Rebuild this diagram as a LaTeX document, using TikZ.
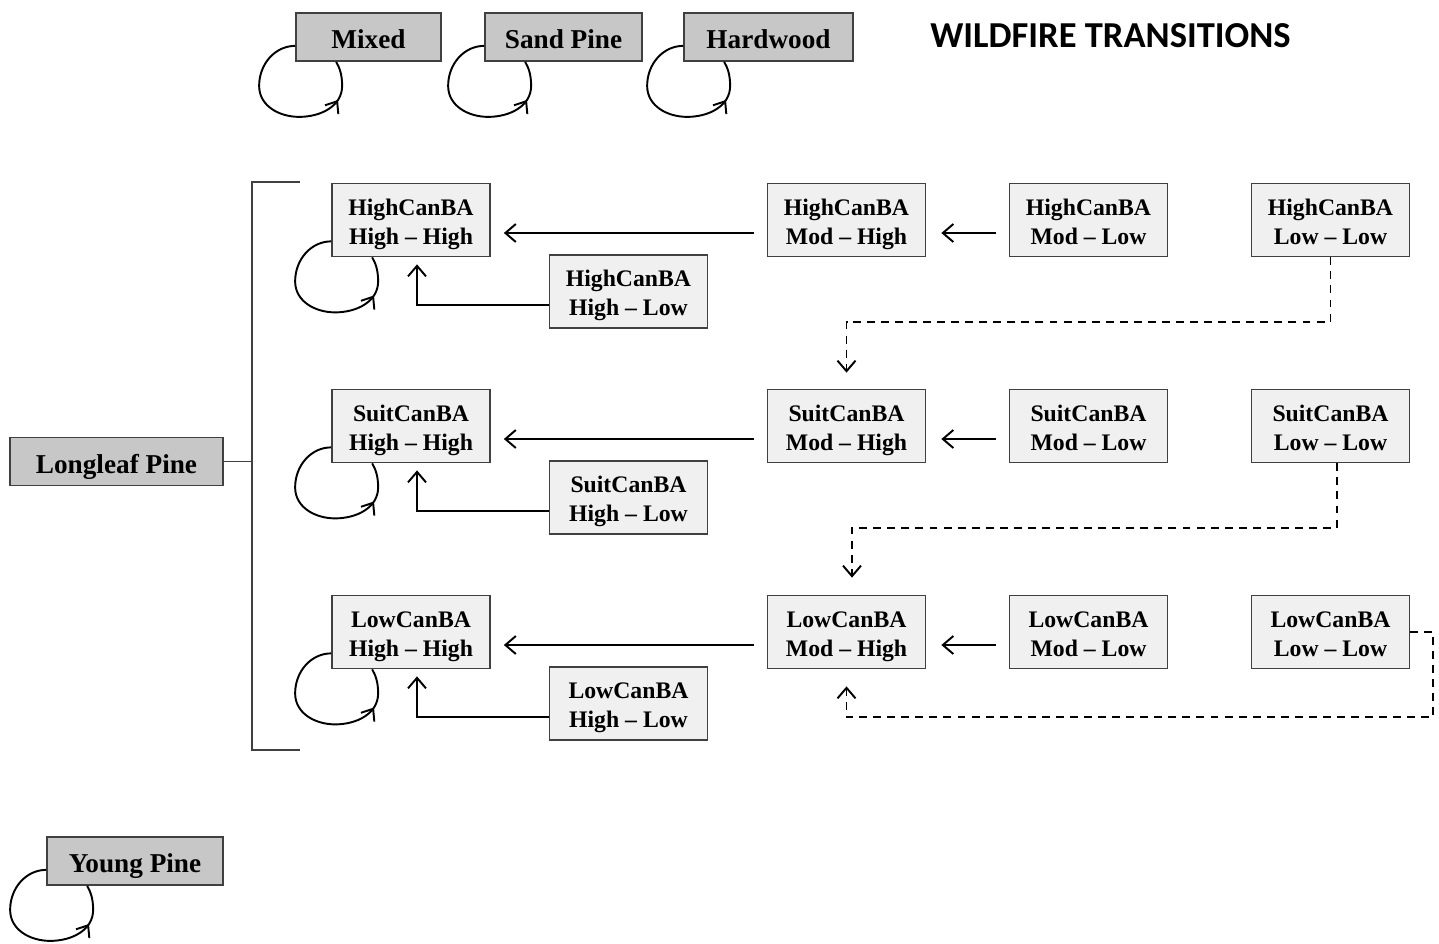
\documentclass[tikz,border=0pt]{standalone}
\usepackage{fontspec}
\setmainfont{Liberation Serif}
\newfontfamily\titlefont{Carlito}
\usetikzlibrary{arrows.meta,calc,decorations.markings}

\newcommand{\cell}[2]{\rule{0pt}{16pt}#1\\#2\strut}

\tikzset{
  graybox/.style={draw=black!75, line width=1pt, fill=black!22, minimum height=0.96cm,
    inner sep=0pt, text height=13.6pt, text depth=0pt, font=\fontsize{15.5}{18}\selectfont\bfseries},
  cellbox/.style={draw=black!75, line width=1pt, fill=black!6, minimum width=3.16cm,
    minimum height=1.46cm, inner sep=0pt, align=center, font=\fontsize{13.5}{16.5}\selectfont\bfseries},
  arr/.style={draw=black, line width=1.1pt, -{Straight Barb[length=2.1mm,width=3.6mm]}},
  dasharr/.style={arr, dash pattern=on 4.5pt off 3.5pt},
  loopline/.style={line width=1.1pt, postaction={decorate},
    decoration={markings, mark=at position 0.8 with {\arrow{Straight Barb[length=2mm,width=3.2mm]}}}},
}

\begin{document}
\begin{tikzpicture}[x=0.02cm, y=-0.02cm]
  \useasboundingbox (0,0) rectangle (1439,943);

  % other cover types
  \node[graybox, minimum width=2.9cm] (mixed) at (368.5,37) {Mixed};
  \node[graybox, minimum width=3.14cm] (sand) at (563.5,37) {Sand Pine};
  \node[graybox, minimum width=3.38cm] (hard) at (768.5,37) {Hardwood};
  \node[font=\titlefont\fontsize{20.8}{24}\selectfont\bfseries] (title) at (1110.5,36) {WILDFIRE TRANSITIONS};

  \node[graybox, minimum width=4.26cm] (longleaf) at (116.5,461.5) {Longleaf Pine};
  \node[graybox, minimum width=3.52cm] (young) at (135,861) {Young Pine};

  % canopy / basal area classes
  \foreach \r/\lab in {1/HighCanBA, 2/SuitCanBA, 3/LowCanBA} {
    \pgfmathsetmacro\yy{220+206*(\r-1)}
    \node[cellbox] (hh\r) at (411,\yy) {\cell{\lab}{High -- High}};
    \node[cellbox] (hl\r) at (628.5,\yy+71.5) {\cell{\lab}{High -- Low}};
    \node[cellbox] (mh\r) at (846.5,\yy) {\cell{\lab}{Mod -- High}};
    \node[cellbox] (ml\r) at (1088.5,\yy) {\cell{\lab}{Mod -- Low}};
    \node[cellbox] (ll\r) at (1330.5,\yy) {\cell{\lab}{Low -- Low}};
    \draw[arr] ([xshift=-0.26cm,yshift=-0.26cm]mh\r.west) -- ([xshift=0.26cm,yshift=-0.26cm]hh\r.east);
    \draw[arr] ([xshift=-0.26cm,yshift=-0.26cm]ml\r.west) -- ([xshift=0.3cm,yshift=-0.26cm]mh\r.east);
    \draw[arr] ([yshift=-0.27cm]hl\r.west) -| ([xshift=0.12cm,yshift=-0.14cm]hh\r.south);
  }

  % self loops
  \foreach \n in {mixed,sand,hard,young,hh1,hh2,hh3} {
    \begin{scope}[shift={(\n.south west)}]
      \draw[loopline] (0,-16) .. controls (-20,-16) and (-36,2) .. (-36,24)
        .. controls (-36,44) and (-16,55) .. (4,55)
        .. controls (26,55) and (47,44) .. (47,24)
        .. controls (47,12) and (44,5) .. (41,0);
    \end{scope}
  }

  % bracket
  \coordinate (brtop) at (252,182);
  \coordinate (brbot) at (252,750);
  \draw[line width=1pt, black!75] ([xshift=0.96cm]brtop) -- (brtop) -- (brbot) -- ([xshift=0.96cm]brbot);
  \draw[line width=1pt, black!75] (longleaf.east) -- (longleaf.east -| brtop);

  % low-low transitions
  \draw[dasharr] (ll1.south) |- ([yshift=1.34cm]mh2.north) -- ([yshift=0.32cm]mh2.north);
  \draw[dasharr] ([xshift=0.13cm]ll2.south) |- ([xshift=0.11cm,yshift=1.34cm]mh3.north)
    -- ([xshift=0.11cm,yshift=0.34cm]mh3.north);
  \draw[dasharr] (ll3.east) -- ([xshift=0.46cm]ll3.east) |- ([yshift=-0.96cm]mh3.south)
    -- ([yshift=-0.34cm]mh3.south);
\end{tikzpicture}
\end{document}
